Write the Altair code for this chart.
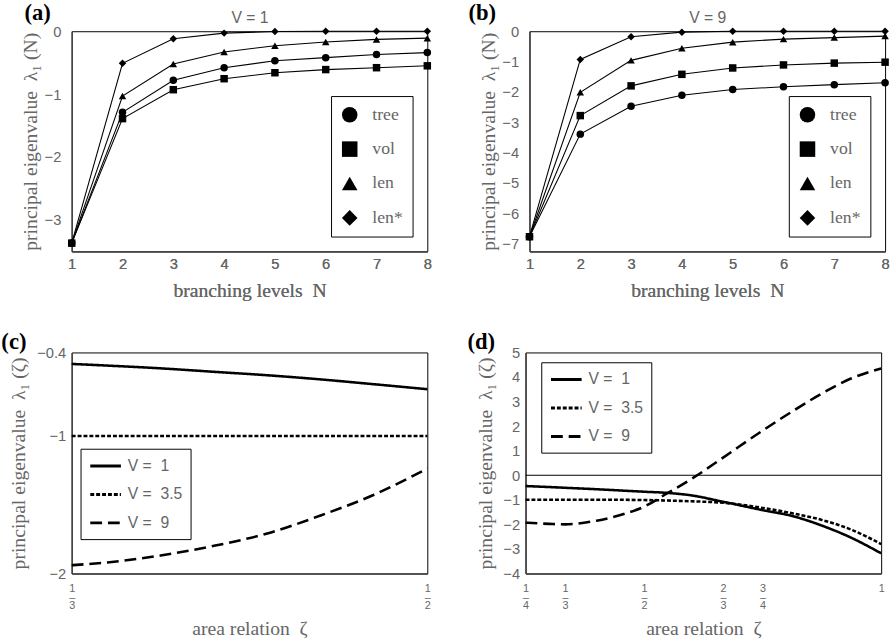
import altair as alt
import pandas as pd

# ---------------- data ----------------
N_LEVELS = [1, 2, 3, 4, 5, 6, 7, 8]
SERIES = ["tree", "vol", "len", "len*"]
SHAPES = ["circle", "square", "triangle-up", "diamond"]

# panel (a): V = 1
A_TREE = [-3.37, -1.29, -0.78, -0.58, -0.47, -0.42, -0.37, -0.34]
A_VOL = [-3.37, -1.39, -0.93, -0.755, -0.66, -0.61, -0.58, -0.55]
A_LEN = [-3.37, -1.03, -0.52, -0.33, -0.23, -0.17, -0.13, -0.11]
A_LENSTAR = [-3.37, -0.51, -0.12, -0.03, -0.005, 0.0, 0.0, 0.0]
A_YTICKS = [0, -1, -2, -3]

# panel (b): V = 9
B_TREE = [-6.77, -3.39, -2.47, -2.11, -1.92, -1.83, -1.76, -1.70]
B_VOL = [-6.77, -2.78, -1.80, -1.42, -1.21, -1.11, -1.05, -1.02]
B_LEN = [-6.77, -2.01, -0.96, -0.56, -0.36, -0.26, -0.21, -0.16]
B_LENSTAR = [-6.77, -0.93, -0.18, -0.03, 0.0, 0.0, 0.0, 0.0]
B_YTICKS = [0, -1, -2, -3, -4, -5, -6, -7]

V_LABELS = ["V =\u00a0\u00a01", "V =\u00a0\u00a03.5", "V =\u00a0\u00a09"]
DASHES = [[1, 0], [4, 2], [12, 6]]

# panel (c)
ZETA_C = [1 / 3, 0.35, 0.375, 0.40, 0.425, 0.45, 0.475, 0.50]
C_V1 = [-0.483, -0.495, -0.515, -0.540, -0.565, -0.595, -0.630, -0.666]
C_V35 = [-1.005, -1.005, -1.005, -1.005, -1.005, -1.005, -1.005, -1.005]
C_V9 = [-1.94, -1.92, -1.87, -1.80, -1.71, -1.58, -1.43, -1.24]
C_XTICKS = [1 / 3, 1 / 2]
C_XLABELS = ["1/3", "1/2"]
C_YTICKS = [-0.4, -1, -2]

# panel (d)
ZETA_D = [0.25, 0.30, 1 / 3, 0.40, 0.45, 0.50, 0.55, 0.60, 2 / 3, 0.75, 0.8125, 0.875, 0.9375, 1.0]
D_V1 = [-0.44, -0.48, -0.51, -0.57, -0.62, -0.67, -0.72, -0.82, -1.08, -1.42, -1.66, -2.05, -2.55, -3.18]
D_V35 = [-1.0, -1.0, -1.0, -1.0, -1.0, -1.01, -1.03, -1.06, -1.12, -1.33, -1.55, -1.82, -2.22, -2.80]
D_V9 = [-1.93, -1.98, -2.0, -1.85, -1.62, -1.28, -0.72, -0.15, 0.72, 1.82, 2.60, 3.33, 3.95, 4.35]
D_XTICKS = [1 / 4, 1 / 3, 1 / 2, 2 / 3, 3 / 4, 1]
D_XLABELS = ["1/4", "1/3", "1/2", "2/3", "3/4", "1"]
D_YTICKS = [-4, -3, -2, -1, 0, 1, 2, 3, 4, 5]
D_ZERO = [0]

# ---------------- styling ----------------
SERIF = "Liberation Serif"
SANS = "Liberation Sans Narrow, Liberation Sans, sans-serif"
LABEL_GRAY = "#666666"
TITLE_GRAY = "#666666"
W, H = 362, 224
NB = "\u00a0"


def tree_df(cols):
    rows = []
    for s, vals in zip(SERIES, cols):
        for n, v in zip(N_LEVELS, vals):
            rows.append({"N": n, "value": v, "series": s})
    return pd.DataFrame(rows)


def zeta_df(zs, cols):
    rows = []
    for s, vals in zip(V_LABELS, cols):
        for z, v in zip(zs, vals):
            rows.append({"zeta": z, "value": v, "V": s})
    return pd.DataFrame(rows)


def frac_expr(vals, labels):
    expr = "''"
    for v, l in reversed(list(zip(vals, labels))):
        if "/" in l:
            n, d = l.split("/")
            t = f"['{n}', '\u2013', '{d}']"
        else:
            t = f"'{l}'"
        expr = f"(abs(datum.value - {v:.6f}) < 0.001 ? {t} : {expr})"
    return expr


def panel_title(letter, dx, dy):
    return alt.TitleParams(
        text=letter, anchor="start", frame="bounds", font=SERIF, fontSize=23,
        fontWeight="bold", color="black", dy=dy, dx=dx,
    )


def y_axis(ticks, symbol, label_pad, title_pad):
    return alt.Axis(
        values=ticks, format="~g",
        title=f"principal eigenvalue{NB}{NB}\u03bb\u2081{NB}({symbol})",
        titleFont=SERIF, titleFontSize=20, titleFontWeight="normal", titleColor=TITLE_GRAY,
        titlePadding=title_pad, labelFont=SANS, labelFontSize=15, labelColor=LABEL_GRAY,
        labelPadding=label_pad, labelOverlap=False, minExtent=0, ticks=False, grid=False,
        domainColor="#444", domainWidth=1.5,
    )


def tree_panel(df, letter, vtitle, ydom, yticks, tdx):
    x = alt.X(
        "N:Q", scale=alt.Scale(domain=[1, 8], nice=False),
        axis=alt.Axis(
            orient="bottom", values=N_LEVELS, format="d", title=f"branching levels{NB}{NB}N",
            titleFont=SERIF, titleFontSize=20, titleFontWeight="normal", titleColor=TITLE_GRAY,
            titlePadding=9, labelFont=SANS, labelFontSize=15, labelColor=LABEL_GRAY,
            labelPadding=6, labelFlush=False, ticks=False, grid=False,
            domainColor="#444", domainWidth=1.5,
        ),
    )
    y = alt.Y("value:Q", scale=alt.Scale(domain=ydom, nice=False, zero=False),
              axis=y_axis(yticks, "N", 11, 4))
    lines = alt.Chart(df).mark_line(color="black", strokeWidth=1.1).encode(x=x, y=y, detail="series:N")
    pts = alt.Chart(df).mark_point(filled=True, color="black", size=58, opacity=1).encode(
        x=x, y=y,
        shape=alt.Shape(
            "series:N", scale=alt.Scale(domain=SERIES, range=SHAPES),
            legend=alt.Legend(
                orient="none", legendX=264, legendY=66, title=None,
                strokeColor="black", fillColor="white", padding=10,
                symbolSize=250, symbolFillColor="black", symbolStrokeColor="black",
                symbolStrokeWidth=0, symbolOpacity=1,
                labelFont=SERIF, labelFontSize=18, labelColor=TITLE_GRAY,
                labelOffset=14, rowPadding=17,
                labelExpr="datum.label + '" + NB * 7 + "'",
            ),
        ),
    )
    top = alt.Chart(df).mark_point(opacity=0).encode(
        x=alt.X(
            "N:Q",
            axis=alt.Axis(
                orient="top", title=vtitle, labels=False, ticks=False, domain=False,
                titleFont=SANS, titleFontSize=16, titleFontWeight="normal",
                titleColor=TITLE_GRAY, titlePadding=6,
            ),
        ),
    )
    return alt.layer(lines, pts, top).properties(width=W, height=H, title=panel_title(letter, tdx, 20))


def zeta_panel(df, letter, xdom, xticks, xlabels, ydom, yticks, lx, ly, tdx, zero_line=False):
    x = alt.X(
        "zeta:Q", scale=alt.Scale(domain=xdom, nice=False, zero=False),
        axis=alt.Axis(
            values=xticks, labelExpr=frac_expr(xticks, xlabels), title=f"area relation{NB}{NB}\u03b6",
            titleFont=SERIF, titleFontSize=20, titleFontWeight="normal", titleColor=TITLE_GRAY,
            titlePadding=8, labelFont=SANS, labelFontSize=11, labelColor=LABEL_GRAY,
            labelLineHeight=9, labelPadding=9, labelFlush=False, labelOverlap=False,
            labelBaseline="top", ticks=False, grid=False, domainColor="#444", domainWidth=1.5,
        ),
    )
    y = alt.Y("value:Q", scale=alt.Scale(domain=ydom, nice=False, zero=False),
              axis=y_axis(yticks, "\u03b6", 6, 8))
    lines = alt.Chart(df).mark_line(color="black", strokeWidth=2.6, interpolate="monotone").encode(
        x=x, y=y,
        strokeDash=alt.StrokeDash(
            "V:N", scale=alt.Scale(domain=V_LABELS, range=DASHES),
            legend=alt.Legend(
                orient="none", legendX=lx, legendY=ly, title=None,
                strokeColor="black", fillColor="white", padding=8,
                symbolType="M-1.95,0H1.95", symbolSize=256, symbolStrokeWidth=3,
                symbolStrokeColor="black", symbolOffset=8, labelFont=SANS, labelFontSize=16,
                labelColor=TITLE_GRAY, labelOffset=13, rowPadding=11,
            ),
        ),
    )
    layers = [lines]
    if zero_line:
        zdf = pd.DataFrame({"value": D_ZERO})
        layers.append(alt.Chart(zdf).mark_rule(color="black", strokeWidth=1).encode(y=y))
    return alt.layer(*layers).properties(width=W, height=225, title=panel_title(letter, tdx, 12))


pa = tree_panel(tree_df([A_TREE, A_VOL, A_LEN, A_LENSTAR]), "(a)", "V = 1", [-3.5, 0], A_YTICKS, 4)
pb = tree_panel(tree_df([B_TREE, B_VOL, B_LEN, B_LENSTAR]), "(b)", "V = 9", [-7.25, 0], B_YTICKS, -10)
pc = zeta_panel(zeta_df(ZETA_C, [C_V1, C_V35, C_V9]), "(c)", [1 / 3, 1 / 2], C_XTICKS, C_XLABELS,
                [-2, -0.4], C_YTICKS, 9, 98, -8)
pd_ = zeta_panel(zeta_df(ZETA_D, [D_V1, D_V35, D_V9]), "(d)", [1 / 4, 1], D_XTICKS, D_XLABELS,
                 [-4, 5], D_YTICKS, 16, 10, -8, zero_line=True)

row1 = alt.hconcat(pa, pb, spacing=36).resolve_legend(shape="independent")
row2 = alt.hconcat(pc, pd_, spacing=34).resolve_legend(strokeDash="independent")
chart = (
    alt.vconcat(row1, row2, spacing=29)
    .resolve_legend(shape="independent", strokeDash="independent")
    .properties(padding={"left": 0, "top": -4, "right": 0, "bottom": 0}, background="white")
    .configure_view(stroke="black", strokeWidth=1)
    .configure_axis(titleFontWeight="normal")
    .configure_axisY(labelOverlap=False)
)

chart.save("out.html", embed_options={"renderer": "svg", "actions": False})
